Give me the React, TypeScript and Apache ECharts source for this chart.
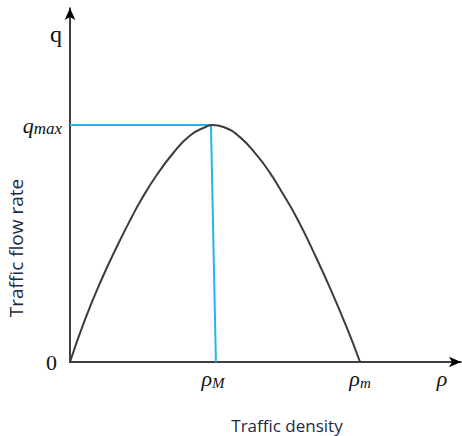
import React, { useEffect, useRef } from "react";
import * as echarts from "echarts";

// Normalised density ρ/ρm and flow q/qmax
const density = [0, 0.051, 0.108, 0.166, 0.213, 0.245, 0.299, 0.356, 0.414, 0.471, 0.49, 0.529, 0.586, 0.644, 0.69, 0.724, 0.782, 0.839, 0.897, 0.954, 1.0];
const flow = [0, 0.177, 0.346, 0.498, 0.612, 0.684, 0.789, 0.882, 0.956, 0.994, 1.0, 0.992, 0.949, 0.873, 0.797, 0.73, 0.608, 0.466, 0.311, 0.146, 0];

const qmaxLineX = [0, 0.486];
const qmaxLineY = [1, 1];
const rhoMLineX = [0.486, 0.503];
const rhoMLineY = [1, 0];

const xTickValues = [0.493, 1.0, 1.283];
const xTickLabels = ["{r|ρ}{s|M}", "{r|ρ}{s|m}", "{r|ρ}"];
const yTickValues = [0, 1, 1.384];
const yTickLabels = ["{z|0}", "{q|q}{m|max}", "{t|q}"];

const xTitle = "Traffic density";
const yTitle = "Traffic flow rate";

const serif = "Liberation Serif";
const sans = "Open Sans";

export default function App() {
  const ref = useRef<HTMLDivElement>(null);
  useEffect(() => {
    if (!ref.current) return;
    const chart = echarts.init(ref.current, undefined, { renderer: "svg" });
    const curve = density.map((d, i) => [d, flow[i]]);
    chart.setOption({
      animation: false,
      backgroundColor: "#ffffff",
      grid: { left: 70, right: 1, top: 8, bottom: 74, containLabel: false, outerBoundsMode: "none" },
      xAxis: {
        type: "value",
        min: 0,
        max: 1.348,
        splitLine: { show: false },
        axisTick: { show: false },
        axisLine: {
          show: true,
          onZero: false,
          symbol: ["none", "arrow"],
          symbolSize: [8, 12],
          lineStyle: { color: "#000", width: 1.5 },
        },
        axisLabel: {
          customValues: xTickValues,
          formatter: (v: number) => {
            const i = xTickValues.findIndex((t) => Math.abs(t - v) < 1e-6);
            return i >= 0 ? xTickLabels[i] : "";
          },
          margin: 4,
          rich: {
            r: { fontFamily: serif, fontStyle: "italic", fontSize: 22, color: "#111", lineHeight: 24 },
            s: { fontFamily: serif, fontStyle: "italic", fontSize: 15, color: "#111", verticalAlign: "bottom", lineHeight: 24, padding: [6, 0, 0, 0] },
          },
        },
        name: xTitle,
        nameLocation: "middle",
        nameGap: 53,
        nameMoveOverlap: false,
        nameTextStyle: { fontFamily: sans, fontSize: 17, color: "#1c2a4a", lineHeight: 20, padding: [0, 0, 0, 43] },
      },
      yAxis: {
        type: "value",
        min: 0,
        max: 1.494,
        splitLine: { show: false },
        axisTick: { show: false },
        axisLine: {
          show: true,
          onZero: false,
          symbol: ["none", "arrow"],
          symbolSize: [8, 12],
          lineStyle: { color: "#000", width: 1.5 },
        },
        axisLabel: {
          customValues: yTickValues,
          formatter: (v: number) => {
            const i = yTickValues.findIndex((t) => Math.abs(t - v) < 1e-6);
            return i >= 0 ? yTickLabels[i] : "";
          },
          margin: 8,
          rich: {
            z: { fontFamily: serif, fontSize: 22, color: "#111", padding: [0, 5, 0, 0] },
            t: { fontFamily: serif, fontSize: 24, color: "#111" },
            q: { fontFamily: serif, fontStyle: "italic", fontSize: 22, color: "#111", lineHeight: 24 },
            m: { fontFamily: serif, fontStyle: "italic", fontSize: 17, color: "#111", verticalAlign: "bottom", lineHeight: 24, padding: [4, 0, 0, 0] },
          },
        },
        name: yTitle,
        nameLocation: "middle",
        nameRotate: 90,
        nameGap: 44,
        nameMoveOverlap: false,
        nameTextStyle: { fontFamily: sans, fontSize: 19, color: "#1c2a4a", lineHeight: 20, padding: [0, 126, 0, 0] },
      },
      series: [
        {
          type: "line",
          data: curve,
          smooth: 0.5,
          showSymbol: false,
          lineStyle: { color: "#3c3c3c", width: 2 },
          z: 3,
        },
        {
          type: "line",
          data: qmaxLineX.map((x, i) => [x, qmaxLineY[i]]),
          showSymbol: false,
          lineStyle: { color: "#27b4ea", width: 2 },
          z: 2,
        },
        {
          type: "line",
          data: rhoMLineX.map((x, i) => [x, rhoMLineY[i]]),
          showSymbol: false,
          lineStyle: { color: "#27b4ea", width: 2 },
          z: 2,
        },
      ],
    });
    return () => chart.dispose();
  }, []);
  return <div ref={ref} style={{ width: 462, height: 436, position: "absolute", left: 0, top: 0 }} />;
}
